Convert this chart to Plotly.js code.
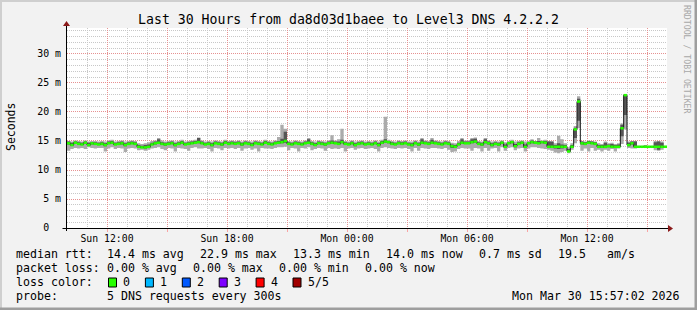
<!DOCTYPE html>
<html><head><meta charset="utf-8">
<script src="https://cdn.plot.ly/plotly-3.0.1.min.js"></script>
<style>html,body{margin:0;padding:0;background:#f2f2f2;} #chart{width:697px;height:310px;}</style>
</head><body><div id="chart"></div>
<script>
// ---- data (ms), one value per 10-minute step starting Sun 10:00 ----
const startTime = '2026-03-29T10:00:00Z';
const endTime = '2026-03-30 16:00:00';
const stepMinutes = 10;

const median = [
14.6,14.3,14.7,14.5,14.4,14.7,14.3,14.6,14.5,14.4,
14.5,14.3,14.6,14.7,14.4,14.5,14.6,14.3,14.5,14.6,
14.5,14.0,13.9,13.9,14.0,14.4,14.6,14.7,14.5,14.4,
14.5,14.6,14.3,14.5,14.7,14.4,14.5,14.6,14.7,14.8,
14.6,14.4,14.5,14.3,14.6,14.5,14.4,14.7,14.5,14.6,
14.5,14.6,14.4,14.6,14.5,14.3,14.6,14.5,14.4,14.7,
14.5,14.4,14.6,14.7,14.8,15.0,14.5,14.4,14.6,14.5,
14.4,14.6,14.7,14.5,14.3,14.6,14.5,14.4,14.6,14.7,
14.6,14.5,14.8,14.5,14.4,14.6,14.3,14.5,14.6,14.4,
14.5,14.4,14.6,14.3,14.7,14.9,14.8,14.5,14.4,14.6,
14.5,14.6,14.4,14.3,14.6,14.4,14.7,14.6,14.5,14.7,
14.6,14.5,14.4,14.6,14.5,14.1,14.0,14.4,14.7,14.6,
14.6,14.8,14.9,14.5,14.4,14.8,14.6,14.3,14.5,14.4,
14.7,14.0,14.6,14.8,14.1,14.5,14.7,14.0,14.6,14.8,
14.7,14.6,14.8,14.7,14.0,14.0,14.0,14.0,14.0,14.0,
13.2,14.0,17.0,21.8,14.6,14.5,14.7,14.6,14.5,14.0,
14.0,14.0,14.1,14.0,14.0,14.0,17.2,22.9,14.3,14.6,
14.0,14.0,14.0,14.0,14.0,14.0,14.0,14.0,14.0,14.0];

const pingMax = [
15.0,14.9,15.1,15.0,14.9,15.1,14.9,15.0,15.0,14.9,
15.0,14.9,15.1,15.2,14.9,15.0,15.1,14.9,15.0,15.1,
15.0,14.6,14.5,14.6,14.8,15.0,15.1,15.5,15.1,14.9,
15.0,15.1,14.9,15.0,15.2,14.9,15.0,15.1,15.2,15.6,
15.1,14.9,15.0,14.9,15.1,15.0,14.9,15.2,15.0,15.1,
15.0,15.1,14.9,15.1,15.0,14.9,15.1,15.0,14.9,15.2,
15.0,14.9,15.1,15.7,17.8,17.1,15.0,14.9,15.1,15.0,
14.9,15.1,15.5,15.0,14.9,15.1,15.0,14.9,15.1,16.0,
15.1,15.3,17.1,15.0,14.9,15.1,14.9,15.0,15.1,14.9,
15.0,14.9,15.1,14.9,15.2,19.2,15.2,15.0,14.9,15.1,
15.0,15.1,14.9,14.9,15.1,14.9,15.5,15.1,15.0,15.5,
15.1,15.0,14.9,15.1,15.0,14.7,14.6,15.0,15.5,15.1,
15.1,15.5,15.6,15.0,14.9,15.5,15.1,14.9,15.0,14.9,
15.1,14.8,15.0,15.2,14.9,15.0,15.1,14.9,15.0,15.3,
15.0,15.5,15.1,15.2,15.0,14.9,14.6,15.9,15.3,14.6,
13.9,14.6,17.6,22.7,15.0,14.9,15.1,15.0,14.9,14.6,
14.5,14.9,14.6,14.7,14.5,14.6,18.0,22.9,14.9,15.0,
15.0,14.2,14.2,14.3,14.2,14.2,15.0,15.0,14.9,14.2];

const pingMin = [
13.3,13.6,13.8,13.7,13.8,13.6,13.9,13.8,13.7,13.8,
13.8,13.2,13.7,13.9,13.6,13.8,13.7,13.1,13.7,13.8,
13.7,13.4,13.5,13.3,13.5,13.7,13.8,13.9,13.6,13.4,
13.8,13.7,13.2,13.8,13.7,13.6,13.3,13.8,13.9,13.7,
13.7,13.8,13.6,13.2,13.8,13.7,13.4,13.8,13.7,13.8,
13.6,13.8,13.3,13.7,13.8,13.5,13.7,13.2,13.8,13.7,
13.7,13.6,13.8,13.9,13.9,14.0,13.4,13.8,13.7,13.2,
13.8,13.7,13.9,13.4,13.6,13.8,13.7,13.3,13.8,13.6,
13.7,13.6,13.8,13.2,13.7,13.8,13.5,13.7,13.8,13.6,
13.7,13.8,13.6,13.2,13.8,13.9,13.8,13.7,13.6,13.8,
13.7,13.8,13.6,13.2,13.8,13.3,13.8,13.7,13.6,13.8,
13.8,13.7,13.6,13.8,13.5,13.1,13.2,13.6,13.8,13.7,
13.7,13.3,13.8,13.7,13.2,13.8,13.3,13.7,13.8,13.2,
13.9,13.3,13.8,13.9,13.4,13.7,13.8,13.2,13.7,13.9,
13.9,13.8,13.7,13.6,13.5,13.3,13.0,12.9,13.1,13.3,
12.9,13.5,14.6,17.2,13.3,13.7,13.2,13.8,13.3,13.5,
13.2,13.5,13.3,13.6,13.2,13.7,14.5,17.0,13.8,13.7,
13.7,13.8,13.9,13.8,13.9,13.8,13.4,13.3,13.5,13.9];

const pingLow = [
14.4,14.2,14.5,14.4,14.3,14.5,14.2,14.4,14.4,14.3,
14.4,14.1,14.5,14.5,14.3,14.4,14.4,14.1,14.4,14.5,
14.3,13.8,13.8,13.7,13.8,14.3,14.4,14.5,14.4,14.2,
14.4,14.5,14.1,14.4,14.5,14.3,14.3,14.5,14.5,14.6,
14.5,14.3,14.4,14.1,14.5,14.4,14.2,14.5,14.4,14.5,
14.4,14.5,14.2,14.5,14.4,14.2,14.5,14.3,14.3,14.5,
14.4,14.3,14.5,14.5,14.6,14.7,14.3,14.3,14.5,14.3,
14.3,14.5,14.5,14.3,14.2,14.5,14.4,14.2,14.5,14.5,
14.5,14.4,14.6,14.3,14.3,14.5,14.1,14.4,14.5,14.3,
14.4,14.3,14.5,14.1,14.5,14.7,14.6,14.4,14.3,14.5,
14.4,14.5,14.3,14.1,14.5,14.2,14.5,14.5,14.4,14.5,
14.5,14.4,14.3,14.5,14.3,13.8,13.8,14.3,14.5,14.5,
14.5,14.6,14.7,14.4,14.2,14.6,14.4,14.1,14.4,14.2,
14.5,13.8,14.5,14.6,13.9,14.4,14.5,13.8,14.5,14.6,
14.5,14.5,14.6,14.5,13.8,13.8,13.7,13.6,13.7,13.8,
13.1,13.8,15.5,18.5,14.4,14.3,14.5,14.5,14.3,13.8,
13.8,13.8,13.9,13.9,13.8,13.9,15.8,19.5,14.1,14.4,
13.9,13.9,14.0,13.9,14.0,13.9,13.8,13.5,13.8,14.0];

const pingHigh = [
14.9,14.7,14.9,14.8,14.7,14.9,14.7,14.8,14.8,14.7,
14.8,14.6,14.9,15.0,14.7,14.8,14.9,14.6,14.8,14.9,
14.8,14.3,14.2,14.3,14.4,14.7,14.9,15.3,14.8,14.7,
14.8,14.9,14.6,14.8,15.0,14.7,14.8,14.9,15.0,15.5,
14.9,14.7,14.8,14.6,14.9,14.8,14.7,15.0,14.8,14.9,
14.8,14.9,14.7,14.9,14.8,14.6,14.9,14.8,14.7,15.0,
14.8,14.7,14.9,15.0,15.4,16.6,14.8,14.7,14.9,14.8,
14.7,14.9,15.3,14.8,14.6,14.9,14.8,14.7,14.9,15.1,
14.9,14.9,15.2,14.8,14.7,14.9,14.6,14.8,14.9,14.7,
14.8,14.7,14.9,14.6,15.0,15.3,15.0,14.8,14.7,14.9,
14.8,14.9,14.7,14.6,14.9,14.7,15.3,14.9,14.8,15.2,
14.9,14.8,14.7,14.9,14.8,14.4,14.3,14.7,15.3,14.9,
14.9,15.3,15.4,14.8,14.7,15.3,14.9,14.6,14.8,14.7,
14.9,14.4,14.8,15.0,14.5,14.8,14.9,14.4,14.8,15.1,
14.9,15.0,15.0,15.0,14.9,14.9,14.3,14.6,14.4,14.3,
13.6,14.3,17.3,22.3,14.9,14.8,15.0,14.9,14.8,14.3,
14.3,14.7,14.4,14.5,14.3,14.4,17.8,22.8,14.7,14.9,
14.9,14.1,14.1,14.2,14.1,14.1,14.8,14.9,14.7,14.1];

const xTickVals = ['2026-03-29 12:00','2026-03-29 15:00','2026-03-29 18:00','2026-03-29 21:00',
  '2026-03-30 00:00','2026-03-30 03:00','2026-03-30 06:00','2026-03-30 09:00',
  '2026-03-30 12:00','2026-03-30 15:00'];
const xTickText = ['Sun 12:00','','Sun 18:00','','Mon 00:00','','Mon 06:00','','Mon 12:00',''];
const yTickVals = [0,5,10,15,20,25,30];
const yTickText = ['0\u00a0\u00a0','5\u00a0m','10\u00a0m','15\u00a0m','20\u00a0m','25\u00a0m','30\u00a0m'];

const lossLabels = ['0','1','2','3','4','5/5'];
const lossColors = ['#26ff00','#00b8ff','#0059ff','#7e00ff','#ff0000','#a10000'];

const titleText = 'Last 30 Hours from da8d03d1baee to Level3 DNS 4.2.2.2';
const legendRows = [
  [['median rtt:',16],['14.4 ms avg',107],['22.9 ms max',200],['13.3 ms min',293],['14.0 ms now',386],['0.7 ms sd',479],['19.5',558],['am/s',607]],
  [['packet loss:',16],['0.00 % avg',107],['0.00 % max',193],['0.00 % min',279],['0.00 % now',365]],
  [['loss color:',16]],
  [['probe:',16],['5 DNS requests every 300s',107]]
];
const dateStamp = 'Mon Mar 30 15:57:02 2026';

// ---- build ----
const n = median.length;
const t0 = Date.parse(startTime);
const fmt = ms => new Date(ms).toISOString().slice(0,19).replace('T',' ');
const times = [];
for (let i = 0; i <= n; i++) times.push(fmt(t0 + i*stepMinutes*60000));
const ext = a => a.concat([a[a.length-1]]);

const segX = [], segY = [];
for (let i = 0; i < n; i++) { segX.push(times[i], times[i+1], null); segY.push(median[i], median[i], null); }

const traces = [
  {x: times, y: ext(pingMin), mode:'lines', line:{width:0, shape:'hv'}, hoverinfo:'skip'},
  {x: times, y: ext(pingMax), mode:'lines', line:{width:0, shape:'hv'}, fill:'tonexty', fillcolor:'#ababab', hoverinfo:'skip'},
  {x: times, y: ext(pingLow), mode:'lines', line:{width:0, shape:'hv'}, hoverinfo:'skip'},
  {x: times, y: ext(pingHigh), mode:'lines', line:{width:0, shape:'hv'}, fill:'tonexty', fillcolor:'#565656', hoverinfo:'skip'},
  {x: times, y: ext(median), mode:'lines', line:{width:1, shape:'hv', color:'#1a1a1a'}, hoverinfo:'skip'},
  {x: segX, y: segY, mode:'lines', line:{width:2.5, color:lossColors[0]}, connectgaps:false, hoverinfo:'skip'}
];

// pixel -> paper helpers (plot area: x 67..667, y 28..228)
const L = 67, R = 30, T = 28, B = 82, W = 697, H = 310;
const pw = W - L - R, ph = H - T - B;
const px = x => (x - L) / pw;
const py = y => (H - B - y) / ph;

const mono = 'DejaVu Sans Mono, monospace';
const annotations = [];
legendRows.forEach((row, r) => {
  const yy = 254 + r*14;
  row.forEach(([txt, x]) => annotations.push({xref:'paper', yref:'paper', x:px(x-1), y:py(yy), text:txt,
    showarrow:false, xanchor:'left', yanchor:'middle', borderpad:0, font:{family:mono, size:11.6, color:'#000'}}));
});
lossLabels.forEach((lab, i) => annotations.push({xref:'paper', yref:'paper', x:px(122 + i*36.9), y:py(282), text:lab,
  showarrow:false, xanchor:'left', yanchor:'middle', borderpad:0, font:{family:mono, size:11.6, color:'#000'}}));
annotations.push({xref:'paper', yref:'paper', x:px(681), y:py(296), text:dateStamp, showarrow:false,
  xanchor:'right', yanchor:'middle', borderpad:0, font:{family:mono, size:11.6, color:'#000'}});
annotations.push({xref:'paper', yref:'paper', x:px(11), y:py(127), text:'Seconds', textangle:-90, showarrow:false,
  xanchor:'center', yanchor:'middle', borderpad:0, font:{family:mono, size:11.5, color:'#000'}});
annotations.push({xref:'paper', yref:'paper', x:px(687), y:py(59), text:'RRDTOOL / TOBI OETIKER', textangle:90, showarrow:false,
  xanchor:'center', yanchor:'middle', borderpad:0, font:{family:mono, size:8.2, color:'#a8a8a8'}});

const shapes = [];
lossColors.forEach((c, i) => {
  const x0 = 108.5 + i*36.9;
  shapes.push({type:'rect', xref:'paper', yref:'paper', x0:px(x0), x1:px(x0+8), y0:py(278), y1:py(287),
    fillcolor:c, line:{color:'#000', width:1}});
});
shapes.push({type:'line', xref:'paper', yref:'paper', x0:px(62.5), x1:px(670), y0:py(228.5), y1:py(228.5), line:{color:'#000', width:1}});
shapes.push({type:'line', xref:'paper', yref:'paper', x0:px(66.5), x1:px(66.5), y0:py(231), y1:py(24), line:{color:'#000', width:1}});
shapes.push({type:'path', xref:'paper', yref:'paper',
  path:`M ${px(668)} ${py(225)} L ${px(673)} ${py(228.5)} L ${px(668)} ${py(232)} Z`, fillcolor:'#8b1a1a', line:{width:0}});
shapes.push({type:'path', xref:'paper', yref:'paper',
  path:`M ${px(63)} ${py(26)} L ${px(66.5)} ${py(21)} L ${px(70)} ${py(26)} Z`, fillcolor:'#8b1a1a', line:{width:0}});
shapes.push({type:'rect', xref:'paper', yref:'paper', x0:px(0), x1:px(697), y0:py(0), y1:py(2), fillcolor:'#cfcfcf', line:{width:0}});
shapes.push({type:'rect', xref:'paper', yref:'paper', x0:px(0), x1:px(2), y0:py(0), y1:py(310), fillcolor:'#cfcfcf', line:{width:0}});
shapes.push({type:'rect', xref:'paper', yref:'paper', x0:px(0), x1:px(697), y0:py(307.5), y1:py(310), fillcolor:'#9e9e9e', line:{width:0}});
shapes.push({type:'rect', xref:'paper', yref:'paper', x0:px(694.5), x1:px(697), y0:py(0), y1:py(310), fillcolor:'#9e9e9e', line:{width:0}});

const majorGrid = 'rgba(255,100,100,0.55)';
const minorGrid = '#c8c8c8';
const layout = {
  width: W, height: H,
  margin: {l:L, r:R, t:T, b:B, pad:0},
  paper_bgcolor:'#f2f2f2', plot_bgcolor:'#ffffff',
  showlegend:false,
  title:{text:titleText, xref:'container', x:0.5, xanchor:'center', yref:'container', y:1-19/H, yanchor:'middle',
    font:{family:mono, size:13.2, color:'#000'}},
  xaxis:{type:'date', range:['2026-03-29 10:00:00', endTime], showline:false, zeroline:false,
    tickmode:'array', tickvals:xTickVals, ticktext:xTickText,
    showgrid:true, gridcolor:majorGrid, griddash:'1px,1px', gridwidth:1,
    ticks:'outside', ticklen:3, tickcolor:majorGrid, ticklabelstandoff:-2,
    tickfont:{family:mono, size:9.8, color:'#000'},
    minor:{tick0:'2026-03-29 10:00:00', dtick:3600000, showgrid:true, gridcolor:minorGrid, griddash:'1px,1px', ticks:''}},
  yaxis:{range:[0, 34.48], showline:false, zeroline:false,
    tickmode:'array', tickvals:yTickVals, ticktext:yTickText,
    showgrid:true, gridcolor:majorGrid, griddash:'1px,1px', gridwidth:1,
    ticks:'', ticklabelstandoff:5,
    tickfont:{family:mono, size:9.9, color:'#000'},
    minor:{tick0:0, dtick:1, showgrid:true, gridcolor:minorGrid, griddash:'1px,1px', ticks:''}},
  annotations, shapes
};
Plotly.newPlot('chart', traces, layout, {staticPlot:true, displayModeBar:false});
</script>
</body></html>
